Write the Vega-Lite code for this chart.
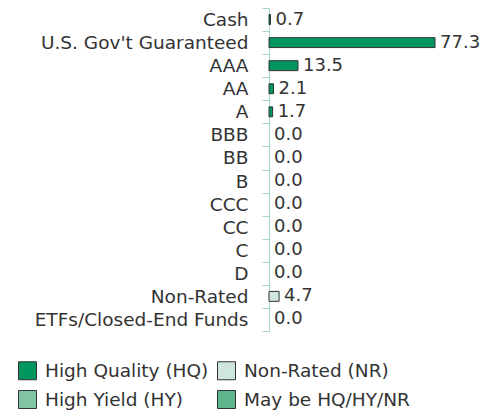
{
  "$schema": "https://vega.github.io/schema/vega-lite/v6.json",
  "width": 166,
  "height": 323,
  "autosize": "none",
  "padding": {"left": 269, "top": 8, "right": 47, "bottom": 79},
  "config": {"font": "DejaVu Sans", "view": {"stroke": null}},
  "data": {
    "values": [
      {"category": "Cash", "value": 0.7, "type": "High Quality (HQ)"},
      {"category": "U.S. Gov't Guaranteed", "value": 77.3, "type": "High Quality (HQ)"},
      {"category": "AAA", "value": 13.5, "type": "High Quality (HQ)"},
      {"category": "AA", "value": 2.1, "type": "High Quality (HQ)"},
      {"category": "A", "value": 1.7, "type": "High Quality (HQ)"},
      {"category": "BBB", "value": 0.0, "type": "High Quality (HQ)"},
      {"category": "BB", "value": 0.0, "type": "High Yield (HY)"},
      {"category": "B", "value": 0.0, "type": "High Yield (HY)"},
      {"category": "CCC", "value": 0.0, "type": "High Yield (HY)"},
      {"category": "CC", "value": 0.0, "type": "High Yield (HY)"},
      {"category": "C", "value": 0.0, "type": "High Yield (HY)"},
      {"category": "D", "value": 0.0, "type": "High Yield (HY)"},
      {"category": "Non-Rated", "value": 4.7, "type": "Non-Rated (NR)"},
      {"category": "ETFs/Closed-End Funds", "value": 0.0, "type": "May be HQ/HY/NR"}
    ]
  },
  "encoding": {
    "y": {
      "field": "category",
      "type": "nominal",
      "sort": null,
      "scale": {
        "padding": 0,
        "domain": ["Cash", "U.S. Gov't Guaranteed", "AAA", "AA", "A", "BBB", "BB", "B", "CCC", "CC", "C", "D", "Non-Rated", "ETFs/Closed-End Funds"]
      },
      "axis": {
        "title": null,
        "domainColor": "#a8d8c0",
        "ticks": true,
        "tickColor": "#a8d8c0",
        "tickSize": 7,
        "tickBand": "extent",
        "labelFontSize": 18.5,
        "labelColor": "#333333",
        "labelPadding": 14,
        "labelAngle": 0,
        "labelLimit": 300
      }
    },
    "x": {
      "field": "value",
      "type": "quantitative",
      "scale": {"domain": [0, 77.3], "nice": false},
      "axis": null
    }
  },
  "layer": [
    {
      "transform": [{"filter": "datum.value > 0"}],
      "mark": {"type": "bar", "height": {"band": 0.43}, "stroke": "#333333", "strokeWidth": 1},
      "encoding": {
        "color": {
          "field": "type",
          "type": "nominal",
          "scale": {
            "domain": ["High Quality (HQ)", "High Yield (HY)", "Non-Rated (NR)", "May be HQ/HY/NR"],
            "range": ["#00965e", "#80c4a4", "#cfe6dc", "#5fb58e"]
          },
          "legend": {
            "title": null,
            "orient": "none",
            "legendX": -251,
            "legendY": 353,
            "columns": 2,
            "columnPadding": 6,
            "rowPadding": 6,
            "symbolType": "square",
            "symbolSize": 324,
            "symbolStrokeColor": "#333333",
            "symbolStrokeWidth": 1,
            "symbolOpacity": 1,
            "labelFontSize": 18.5,
            "labelColor": "#333333",
            "labelOffset": 8,
            "labelLimit": 300,
            "encode": {
              "symbols": {
                "update": {
                  "stroke": {"value": "#333333"},
                  "strokeWidth": {"value": 1},
                  "fill": {
                    "value": {"signal": "datum.value === 'May be HQ/HY/NR' ? {gradient: 'linear', x1: 0, y1: 1, x2: 1, y2: 0, stops: [{offset: 0, color: '#cfe6dc'}, {offset: 0.12, color: '#cfe6dc'}, {offset: 0.12, color: '#2e9f72'}, {offset: 0.25, color: '#2e9f72'}, {offset: 0.25, color: '#cfe6dc'}, {offset: 0.38, color: '#cfe6dc'}, {offset: 0.38, color: '#2e9f72'}, {offset: 0.5, color: '#2e9f72'}, {offset: 0.5, color: '#cfe6dc'}, {offset: 0.62, color: '#cfe6dc'}, {offset: 0.62, color: '#2e9f72'}, {offset: 0.75, color: '#2e9f72'}, {offset: 0.75, color: '#cfe6dc'}, {offset: 0.88, color: '#cfe6dc'}, {offset: 0.88, color: '#2e9f72'}, {offset: 1, color: '#2e9f72'}]} : scale('color', datum.value)"}
                  }
                }
              }
            }
          }
        }
      }
    },
    {
      "mark": {"type": "text", "align": "left", "baseline": "middle", "dx": 5, "fontSize": 18, "color": "#333333"},
      "encoding": {
        "text": {"field": "value", "type": "quantitative", "format": ".1f"}
      }
    }
  ]
}
